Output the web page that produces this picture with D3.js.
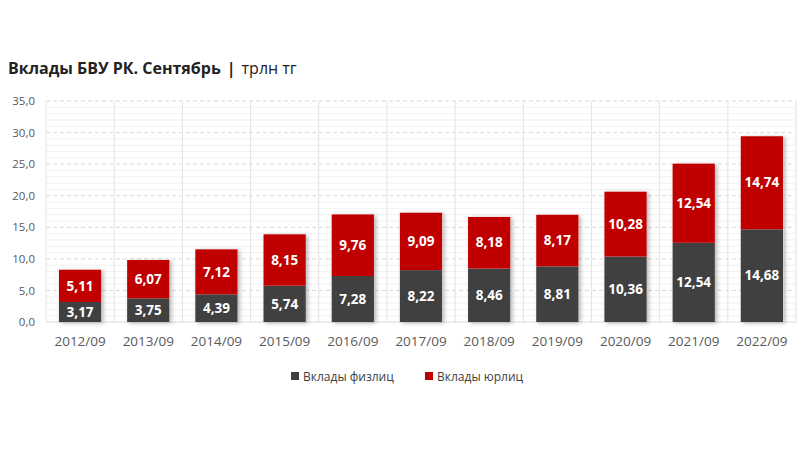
<!DOCTYPE html>
<html><head><meta charset="utf-8">
<script src="https://cdn.jsdelivr.net/npm/d3@7"></script>
<style>body{margin:0;background:#fff;} text{font-family:"Open Sans","Liberation Sans",sans-serif;}</style>
</head><body>
<svg id="c" width="800" height="451"></svg>
<script>
const categories = ["2012/09","2013/09","2014/09","2015/09","2016/09","2017/09","2018/09","2019/09","2020/09","2021/09","2022/09"];
const individuals = [3.17,3.75,4.39,5.74,7.28,8.22,8.46,8.81,10.36,12.54,14.68];
const legalEntities = [5.11,6.07,7.12,8.15,9.76,9.09,8.18,8.17,10.28,12.54,14.74];
const seriesNames = ["Вклады физлиц","Вклады юрлиц"];
const yTicks = [0,5,10,15,20,25,30,35];
const title = "Вклады БВУ РК. Сентябрь";
const unit = "трлн тг";

const colors = ["#404040","#c00000"];
const svg = d3.select("#c");
const m = {l:46, r:796, t:101, b:322};
const x = d3.scaleBand().domain(categories).range([m.l,m.r]).paddingInner(0.38).paddingOuter(0.19);
const xg = d3.scaleBand().domain(categories).range([m.l,m.r]);
const y = d3.scaleLinear().domain([0,35]).range([m.b,m.t]);
const fmt = v => d3.format(".2f")(v).replace(".",",");
const fmt1 = v => d3.format(".1f")(v).replace(".",",");

const defs = svg.append("defs");
const f = defs.append("filter").attr("id","sh").attr("x","-20%").attr("y","-20%").attr("width","150%").attr("height","150%");
f.append("feDropShadow").attr("dx",2).attr("dy",1).attr("stdDeviation",2).attr("flood-color","#000").attr("flood-opacity",0.3);

// title
const t = svg.append("text").attr("x",8).attr("y",74).attr("font-size",16).attr("fill","#222");
t.append("tspan").attr("font-weight","bold").text(title);
t.append("tspan").attr("font-weight","bold").attr("dx",6).text("|");
t.append("tspan").attr("dx",6).text(unit);

// minor gridlines
const g = svg.append("g");
g.selectAll(".mn").data(d3.range(1,35).filter(v=>v%5!==0)).join("line")
  .attr("x1",m.l).attr("x2",m.r).attr("y1",d=>y(d)).attr("y2",d=>y(d))
  .attr("stroke","#f2f2f2").attr("stroke-width",1);
g.selectAll(".mj").data(yTicks.slice(1)).join("line")
  .attr("x1",m.l).attr("x2",m.r).attr("y1",d=>y(d)).attr("y2",d=>y(d))
  .attr("stroke","#d9d9d9").attr("stroke-dasharray","4,3").attr("stroke-width",1);
// vertical gridlines
g.selectAll(".vl").data(categories.concat(["_end"])).join("line")
  .attr("x1",(d,i)=>m.l+i*xg.step()).attr("x2",(d,i)=>m.l+i*xg.step())
  .attr("y1",m.t).attr("y2",m.b).attr("stroke","#e3e3e3").attr("stroke-width",1);
g.append("line").attr("x1",m.l).attr("x2",m.r).attr("y1",m.b).attr("y2",m.b).attr("stroke","#d9d9d9");

// y axis
const ya = svg.append("g").attr("transform",`translate(${m.l-8},0)`)
  .call(d3.axisLeft(y).tickValues(yTicks).tickFormat(fmt1).tickSize(0));
ya.select(".domain").remove();
ya.selectAll("text").attr("font-size",11.5).attr("fill","#595959").attr("font-family","Open Sans, Liberation Sans, sans-serif");

// x axis
const xa = svg.append("g").attr("transform",`translate(0,${m.b+10})`)
  .call(d3.axisBottom(x).tickSize(0));
xa.select(".domain").remove();
xa.selectAll("text").attr("font-size",13.5).attr("fill","#595959").attr("dy","0.8em").attr("font-family","Open Sans, Liberation Sans, sans-serif");

// bars
const data = categories.map((c,i)=>({c, a:individuals[i], b:legalEntities[i]}));
const bars = svg.append("g");
bars.selectAll(".sh").data(data).join("rect")
  .attr("x",d=>x(d.c)).attr("width",x.bandwidth())
  .attr("y",d=>y(d.a+d.b)).attr("height",d=>y(0)-y(d.a+d.b))
  .attr("fill","#fff").attr("filter","url(#sh)");
bars.selectAll(".a").data(data).join("rect")
  .attr("x",d=>x(d.c)).attr("width",x.bandwidth())
  .attr("y",d=>y(d.a)).attr("height",d=>y(0)-y(d.a)).attr("fill",colors[0]);
bars.selectAll(".b").data(data).join("rect")
  .attr("x",d=>x(d.c)).attr("width",x.bandwidth())
  .attr("y",d=>y(d.a+d.b)).attr("height",d=>y(d.a)-y(d.a+d.b)).attr("fill",colors[1]);

const lab = svg.append("g").attr("font-size",13.5).attr("font-weight","bold").attr("fill","#fff").attr("text-anchor","middle");
lab.selectAll(".la").data(data).join("text")
  .attr("x",d=>x(d.c)+x.bandwidth()/2).attr("y",d=>(y(0)+y(d.a))/2).attr("dy","0.35em").text(d=>fmt(d.a));
lab.selectAll(".lb").data(data).join("text")
  .attr("x",d=>x(d.c)+x.bandwidth()/2).attr("y",d=>(y(d.a)+y(d.a+d.b))/2).attr("dy","0.35em").text(d=>fmt(d.b));

// legend
const lg = svg.append("g");
const lx = [291,425];
seriesNames.forEach((n,i)=>{
  lg.append("rect").attr("x",lx[i]).attr("y",372).attr("width",8).attr("height",8).attr("fill",colors[i]);
  lg.append("text").attr("x",lx[i]+12).attr("y",380.5).attr("font-size",12).attr("fill","#404040").text(n);
});
</script>
</body></html>
